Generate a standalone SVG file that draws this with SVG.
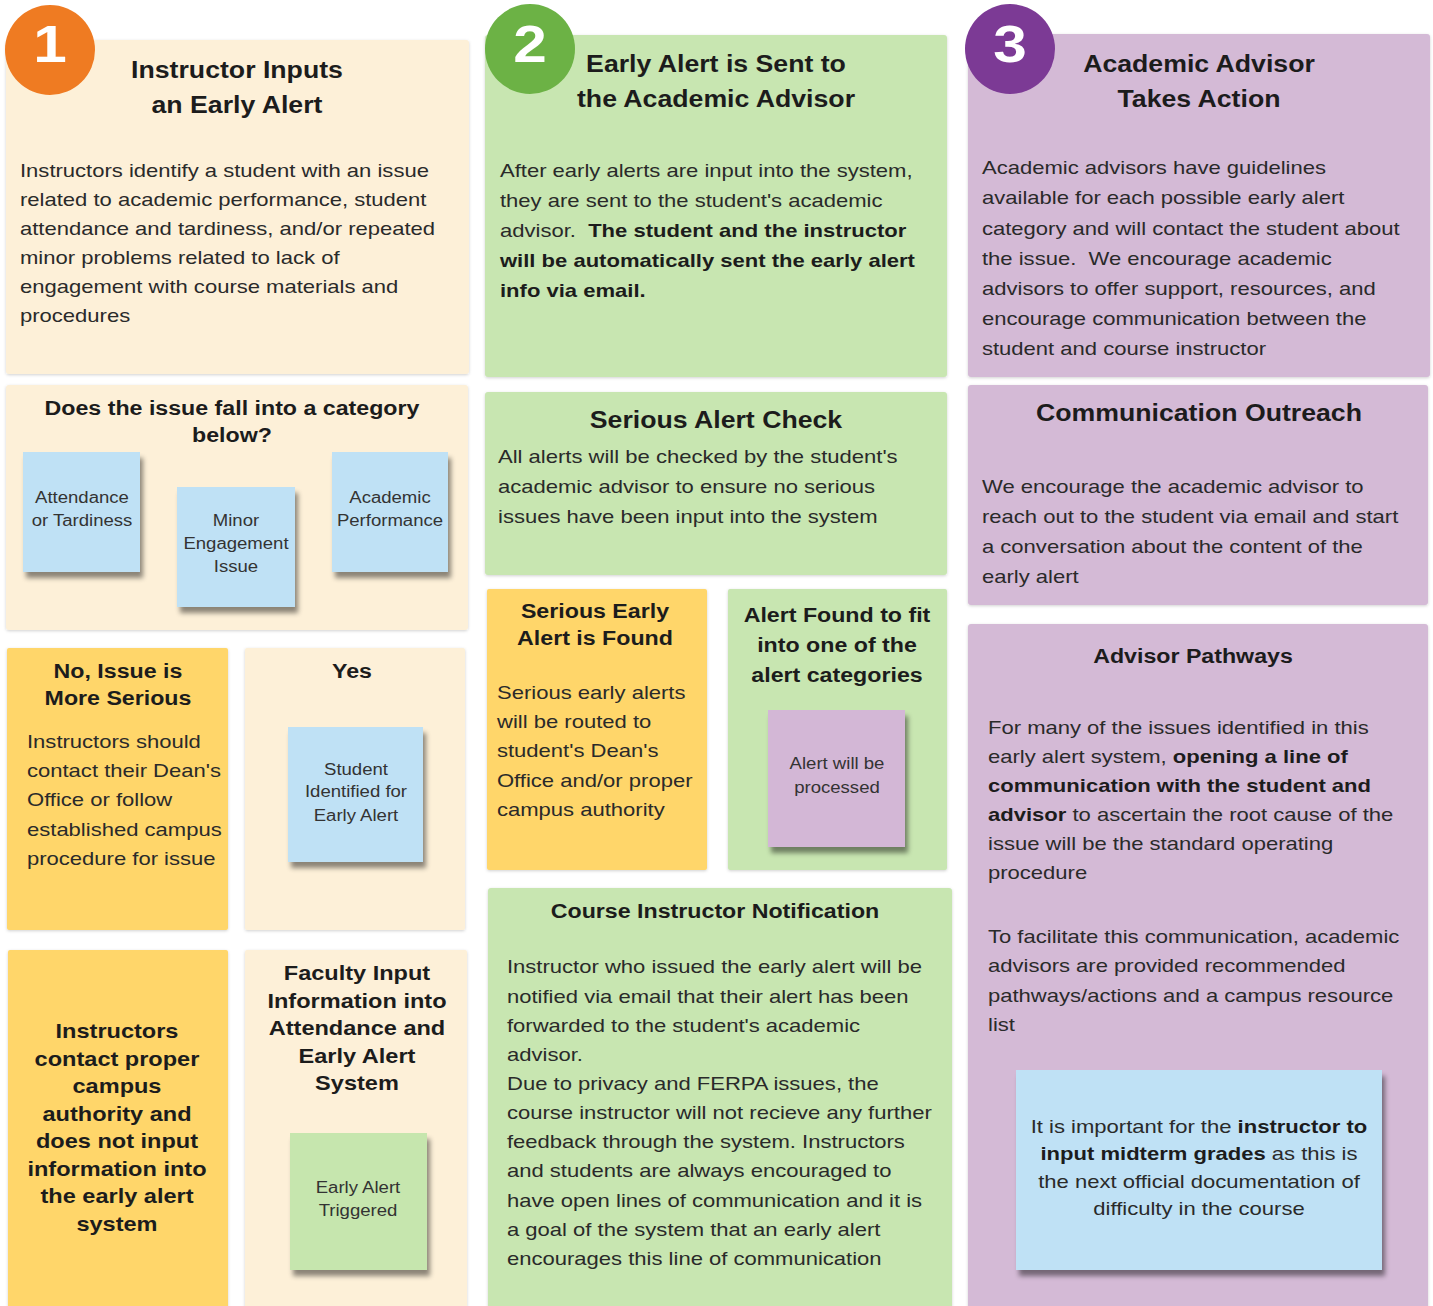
<svg xmlns="http://www.w3.org/2000/svg" width="1433" height="1306" viewBox="0 0 1433 1306">
<defs>
<filter id="ps" x="-5%" y="-5%" width="110%" height="110%"><feDropShadow dx="0" dy="1" stdDeviation="1.5" flood-color="#000" flood-opacity="0.18"/></filter>
<filter id="ss" x="-10%" y="-10%" width="125%" height="125%"><feDropShadow dx="3" dy="6" stdDeviation="2.5" flood-color="#000" flood-opacity="0.45"/></filter>
</defs>
<style>
text{font-family:"Liberation Sans",Arial,sans-serif;fill:#2a2a2a}
.t{font-size:23px;font-weight:bold;fill:#1c1c1c;text-anchor:middle}
.st{font-size:20px;font-weight:bold;fill:#1c1c1c;text-anchor:middle}
.sb{font-size:20.3px;font-weight:bold;fill:#1c1c1c;text-anchor:middle}
.b{font-size:19px}
.c{text-anchor:middle}
.n{font-size:16px;text-anchor:middle;fill:#333}
.bold{font-weight:bold;fill:#1c1c1c}
.d{font-size:52px;font-weight:bold;fill:#fff;text-anchor:middle}
.cream{fill:#fdf0d8}
.yel{fill:#ffd66b}
.grn{fill:#c8e6b1}
.pur{fill:#d4bad6}
.blue{fill:#bfe1f5}
.sg{fill:#c6e6ae}
.sp{fill:#d3b7d6}
</style>

<g id="connectors"></g>

<!-- Column 1 -->
<g id="step1">
<rect class="cream" x="6" y="40" width="463" height="334" rx="3" filter="url(#ps)"/>
<text class="t" transform="matrix(1.16 0 0 1 -37.92 0)"><tspan x="237" y="78">Instructor Inputs</tspan><tspan x="237" y="113">an Early Alert</tspan></text>
<text class="b" transform="matrix(1.16 0 0 1 -3.2 0)"><tspan x="20" y="177">Instructors identify a student with an issue</tspan><tspan x="20" y="206">related to academic performance, student</tspan><tspan x="20" y="235">attendance and tardiness, and/or repeated</tspan><tspan x="20" y="264">minor problems related to lack of</tspan><tspan x="20" y="293">engagement with course materials and</tspan><tspan x="20" y="322">procedures</tspan></text>
</g>
<g id="badge1">
<circle cx="50" cy="50" r="45" fill="#ef7b22"/>
<text class="d" x="50" y="62" transform="matrix(1.16 0 0 1 -8 0)">1</text>
</g>

<g id="category">
<rect class="cream" x="6" y="385" width="462" height="245" rx="3" filter="url(#ps)"/>
<text class="st" transform="matrix(1.16 0 0 1 -37.12 0)"><tspan x="232" y="415">Does the issue fall into a category</tspan><tspan x="232" y="442">below?</tspan></text>
</g>
<g id="attendance">
<rect class="blue" x="23" y="452" width="117" height="120" filter="url(#ss)"/>
<text class="n" transform="matrix(1.16 0 0 1 -13.12 0)"><tspan x="82" y="503">Attendance</tspan><tspan x="82" y="526">or Tardiness</tspan></text>
</g>
<g id="minor">
<rect class="blue" x="177" y="487" width="118" height="120" filter="url(#ss)"/>
<text class="n" transform="matrix(1.16 0 0 1 -37.76 0)"><tspan x="236" y="526">Minor</tspan><tspan x="236" y="549">Engagement</tspan><tspan x="236" y="572">Issue</tspan></text>
</g>
<g id="academic">
<rect class="blue" x="332" y="452" width="116" height="120" filter="url(#ss)"/>
<text class="n" transform="matrix(1.16 0 0 1 -62.4 0)"><tspan x="390" y="503">Academic</tspan><tspan x="390" y="526">Performance</tspan></text>
</g>

<g id="no-serious">
<rect class="yel" x="7" y="648" width="221" height="282" rx="2" filter="url(#ps)"/>
<text class="st" transform="matrix(1.16 0 0 1 -18.88 0)"><tspan x="118" y="678">No, Issue is</tspan><tspan x="118" y="705">More Serious</tspan></text>
<text class="b" transform="matrix(1.16 0 0 1 -4.32 0)"><tspan x="27" y="748">Instructors should</tspan><tspan x="27" y="777">contact their Dean's</tspan><tspan x="27" y="806">Office or follow</tspan><tspan x="27" y="836">established campus</tspan><tspan x="27" y="865">procedure for issue</tspan></text>
</g>
<g id="yes">
<rect class="cream" x="245" y="648" width="220" height="282" rx="2" filter="url(#ps)"/>
<text class="st" x="352" y="678" transform="matrix(1.16 0 0 1 -56.32 0)">Yes</text>
</g>
<g id="student-identified">
<rect class="blue" x="288" y="727" width="135" height="135" filter="url(#ss)"/>
<text class="n" transform="matrix(1.16 0 0 1 -56.96 0)"><tspan x="356" y="775">Student</tspan><tspan x="356" y="797">Identified for</tspan><tspan x="356" y="821">Early Alert</tspan></text>
</g>

<g id="contact-authority">
<rect class="yel" x="8" y="950" width="220" height="360" rx="2" filter="url(#ps)"/>
<text class="sb" transform="matrix(1.16 0 0 1 -18.72 0)"><tspan x="117" y="1038">Instructors</tspan><tspan x="117" y="1066">contact proper</tspan><tspan x="117" y="1093">campus</tspan><tspan x="117" y="1121">authority and</tspan><tspan x="117" y="1148">does not input</tspan><tspan x="117" y="1176">information into</tspan><tspan x="117" y="1203">the early alert</tspan><tspan x="117" y="1231">system</tspan></text>
</g>
<g id="faculty-input">
<rect class="cream" x="245" y="950" width="222" height="360" rx="2" filter="url(#ps)"/>
<text class="sb" transform="matrix(1.16 0 0 1 -57.12 0)"><tspan x="357" y="980">Faculty Input</tspan><tspan x="357" y="1008">Information into</tspan><tspan x="357" y="1035">Attendance and</tspan><tspan x="357" y="1063">Early Alert</tspan><tspan x="357" y="1090">System</tspan></text>
</g>
<g id="alert-triggered">
<rect class="sg" x="290" y="1133" width="137" height="137" filter="url(#ss)"/>
<text class="n" transform="matrix(1.16 0 0 1 -57.28 0)"><tspan x="358" y="1193">Early Alert</tspan><tspan x="358" y="1216">Triggered</tspan></text>
</g>

<!-- Column 2 -->
<g id="step2">
<rect class="grn" x="485" y="35" width="462" height="342" rx="3" filter="url(#ps)"/>
<text class="t" transform="matrix(1.16 0 0 1 -114.56 0)"><tspan x="716" y="72">Early Alert is Sent to</tspan><tspan x="716" y="107">the Academic Advisor</tspan></text>
<text class="b" transform="matrix(1.16 0 0 1 -80 0)"><tspan x="500" y="177">After early alerts are input into the system,</tspan><tspan x="500" y="207">they are sent to the student's academic</tspan><tspan x="500" y="237">advisor.&#160; <tspan class="bold">The student and the instructor</tspan></tspan><tspan x="500" y="267" class="bold">will be automatically sent the early alert</tspan><tspan x="500" y="297" class="bold">info via email.</tspan></text>
</g>
<g id="badge2">
<circle cx="530" cy="49" r="45" fill="#6cb245"/>
<text class="d" x="530" y="62" transform="matrix(1.16 0 0 1 -84.8 0)">2</text>
</g>

<g id="serious-check">
<rect class="grn" x="485" y="392" width="462" height="183" rx="3" filter="url(#ps)"/>
<text class="t" x="716" y="428" transform="matrix(1.16 0 0 1 -114.56 0)">Serious Alert Check</text>
<text class="b" transform="matrix(1.16 0 0 1 -79.68 0)"><tspan x="498" y="463">All alerts will be checked by the student's</tspan><tspan x="498" y="493">academic advisor to ensure no serious</tspan><tspan x="498" y="523">issues have been input into the system</tspan></text>
</g>
<g id="serious-found">
<rect class="yel" x="487" y="589" width="220" height="281" rx="2" filter="url(#ps)"/>
<text class="st" transform="matrix(1.16 0 0 1 -95.2 0)"><tspan x="595" y="618">Serious Early</tspan><tspan x="595" y="645">Alert is Found</tspan></text>
<text class="b" transform="matrix(1.16 0 0 1 -79.52 0)"><tspan x="497" y="699">Serious early alerts</tspan><tspan x="497" y="728">will be routed to</tspan><tspan x="497" y="757">student's Dean's</tspan><tspan x="497" y="787">Office and/or proper</tspan><tspan x="497" y="816">campus authority</tspan></text>
</g>
<g id="alert-found">
<rect class="grn" x="728" y="589" width="219" height="281" rx="2" filter="url(#ps)"/>
<text class="st" transform="matrix(1.16 0 0 1 -133.92 0)"><tspan x="837" y="622">Alert Found to fit</tspan><tspan x="837" y="652">into one of the</tspan><tspan x="837" y="682">alert categories</tspan></text>
</g>
<g id="alert-processed">
<rect class="sp" x="768" y="710" width="137" height="137" filter="url(#ss)"/>
<text class="n" transform="matrix(1.16 0 0 1 -133.92 0)"><tspan x="837" y="769">Alert will be</tspan><tspan x="837" y="793">processed</tspan></text>
</g>
<g id="instructor-notification">
<rect class="grn" x="488" y="888" width="464" height="422" rx="3" filter="url(#ps)"/>
<text class="st" x="715" y="918" transform="matrix(1.16 0 0 1 -114.4 0)">Course Instructor Notification</text>
<text class="b" transform="matrix(1.16 0 0 1 -81.12 0)"><tspan x="507" y="973">Instructor who issued the early alert will be</tspan><tspan x="507" y="1003">notified via email that their alert has been</tspan><tspan x="507" y="1032">forwarded to the student's academic</tspan><tspan x="507" y="1061">advisor.</tspan><tspan x="507" y="1090">Due to privacy and FERPA issues, the</tspan><tspan x="507" y="1119">course instructor will not recieve any further</tspan><tspan x="507" y="1148">feedback through the system. Instructors</tspan><tspan x="507" y="1177">and students are always encouraged to</tspan><tspan x="507" y="1207">have open lines of communication and it is</tspan><tspan x="507" y="1236">a goal of the system that an early alert</tspan><tspan x="507" y="1265">encourages this line of communication</tspan></text>
</g>

<!-- Column 3 -->
<g id="step3">
<rect class="pur" x="968" y="34" width="462" height="343" rx="3" filter="url(#ps)"/>
<text class="t" transform="matrix(1.16 0 0 1 -191.84 0)"><tspan x="1199" y="72">Academic Advisor</tspan><tspan x="1199" y="107">Takes Action</tspan></text>
<text class="b" transform="matrix(1.16 0 0 1 -157.12 0)"><tspan x="982" y="174">Academic advisors have guidelines</tspan><tspan x="982" y="204">available for each possible early alert</tspan><tspan x="982" y="235">category and will contact the student about</tspan><tspan x="982" y="265">the issue.&#160; We encourage academic</tspan><tspan x="982" y="295">advisors to offer support, resources, and</tspan><tspan x="982" y="325">encourage communication between the</tspan><tspan x="982" y="355">student and course instructor</tspan></text>
</g>
<g id="badge3">
<circle cx="1010" cy="49" r="45" fill="#7c3a95"/>
<text class="d" x="1010" y="62" transform="matrix(1.16 0 0 1 -161.6 0)">3</text>
</g>

<g id="outreach">
<rect class="pur" x="968" y="385" width="460" height="220" rx="3" filter="url(#ps)"/>
<text class="t" x="1199" y="421" transform="matrix(1.16 0 0 1 -191.84 0)">Communication Outreach</text>
<text class="b" transform="matrix(1.16 0 0 1 -157.12 0)"><tspan x="982" y="493">We encourage the academic advisor to</tspan><tspan x="982" y="523">reach out to the student via email and start</tspan><tspan x="982" y="553">a conversation about the content of the</tspan><tspan x="982" y="583">early alert</tspan></text>
</g>
<g id="pathways">
<rect class="pur" x="968" y="624" width="460" height="686" rx="3" filter="url(#ps)"/>
<text class="st" x="1193" y="663" transform="matrix(1.16 0 0 1 -190.88 0)">Advisor Pathways</text>
<text class="b" transform="matrix(1.16 0 0 1 -158.08 0)"><tspan x="988" y="734">For many of the issues identified in this</tspan><tspan x="988" y="763">early alert system, <tspan class="bold">opening a line of</tspan></tspan><tspan x="988" y="792" class="bold">communication with the student and</tspan><tspan x="988" y="821"><tspan class="bold">advisor</tspan> to ascertain the root cause of the</tspan><tspan x="988" y="850">issue will be the standard operating</tspan><tspan x="988" y="879">procedure</tspan><tspan x="988" y="943">To facilitate this communication, academic</tspan><tspan x="988" y="972">advisors are provided recommended</tspan><tspan x="988" y="1002">pathways/actions and a campus resource</tspan><tspan x="988" y="1031">list</tspan></text>
</g>
<g id="midterm-note">
<rect class="blue" x="1016" y="1070" width="366" height="200" filter="url(#ss)"/>
<text class="b c" transform="matrix(1.16 0 0 1 -191.84 0)"><tspan x="1199" y="1133">It is important for the <tspan class="bold">instructor to</tspan></tspan><tspan x="1199" y="1160"><tspan class="bold">input midterm grades</tspan> as this is</tspan><tspan x="1199" y="1188">the next official documentation of</tspan><tspan x="1199" y="1215">difficulty in the course</tspan></text>
</g>
</svg>
